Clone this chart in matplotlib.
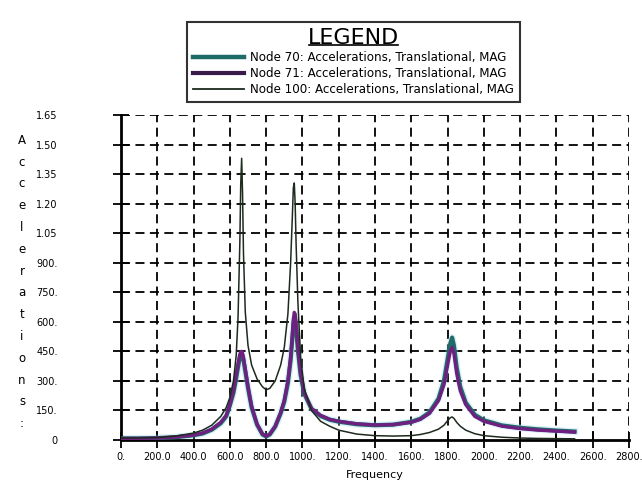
import matplotlib
matplotlib.use("Agg")
import matplotlib.pyplot as plt
from matplotlib.lines import Line2D

# ---------------- data ----------------
freq = [0, 100, 200, 300, 400, 450, 500, 550, 580, 600, 620, 635, 645, 655, 660, 665,
        670, 675, 685, 700, 720, 750, 780, 800, 820, 850, 880, 900, 920, 935, 945, 950,
        955, 960, 965, 975, 990, 1010, 1050, 1100, 1150, 1200, 1300, 1400, 1500, 1600,
        1650, 1700, 1750, 1780, 1800, 1815, 1825, 1835, 1850, 1870, 1900, 1950, 2000,
        2100, 2200, 2300, 2400, 2500]

node70 = [8, 8, 10, 14, 24, 33, 52, 85, 120, 175, 240, 315, 370, 420, 432, 435,
          425, 405, 350, 265, 165, 78, 28, 18, 28, 68, 135, 195, 290, 405, 520, 585,
          620, 612, 570, 455, 330, 235, 158, 122, 103, 93, 80, 75, 78, 92,
          108, 140, 210, 300, 410, 490, 520, 480, 370, 270, 190, 128, 100,
          74, 62, 54, 48, 43]

node71 = [8, 8, 10, 15, 25, 35, 55, 90, 125, 180, 250, 330, 385, 435, 448, 450,
          440, 420, 360, 270, 170, 80, 30, 20, 30, 70, 140, 200, 300, 420, 540, 610,
          648, 640, 590, 470, 340, 240, 160, 125, 105, 95, 82, 76, 78, 90,
          105, 135, 200, 280, 380, 450, 470, 440, 340, 250, 180, 120, 95,
          70, 58, 50, 45, 40]

node100 = [10, 10, 12, 20, 35, 50, 75, 120, 165, 215, 300, 430, 620, 1000, 1300, 1430,
           1250, 950, 650, 480, 380, 310, 270, 255, 262, 300, 380, 470, 640, 900, 1150, 1280,
           1305, 1200, 1000, 700, 420, 260, 150, 95, 70, 50, 30, 22, 20, 22,
           28, 38, 55, 75, 98, 113, 117, 110, 90, 70, 50, 32, 22,
           14, 10, 8, 7, 6]

series_labels = ["Node 70: Accelerations, Translational, MAG",
                 "Node 71: Accelerations, Translational, MAG",
                 "Node 100: Accelerations, Translational, MAG"]

xticks = [0, 200, 400, 600, 800, 1000, 1200, 1400, 1600, 1800, 2000, 2200, 2400, 2600, 2800]
xtick_labels = ["0.", "200.0", "400.0", "600.0", "800.0", "1000.", "1200.", "1400.",
                "1600.", "1800.", "2000.", "2200.", "2400.", "2600.", "2800."]
yticks = [0, 150, 300, 450, 600, 750, 900, 1050, 1200, 1350, 1500, 1650]
ytick_labels = ["0", "150.", "300.", "450.", "600.", "750.", "900.", "1.05", "1.20",
                "1.35", "1.50", "1.65"]

# ---------------- figure ----------------
fig = plt.figure(figsize=(6.42, 4.91), dpi=100)
ax = fig.add_axes([121 / 642, 1 - 440 / 491, (629 - 121) / 642, (440 - 115) / 491])

ax.set_xlim(0, 2800)
ax.set_ylim(0, 1650)

# grid
for x in xticks[1:]:
    ax.axvline(x, color="black", lw=1.3, ls=(0, (5, 3)), zorder=1)
for y in yticks[1:]:
    ax.axhline(y, color="black", lw=1.3, ls=(0, (5, 3)), zorder=1)

teal = "#1f6b68"
purple = "#6e2080"
thin = "#1e2a1e"

ax.plot(freq, node70, color="#8fd0e8", lw=5.0, alpha=0.3, zorder=2)
l70, = ax.plot(freq, node70, color=teal, lw=3.0, zorder=3)
l71, = ax.plot(freq, node71, color=purple, lw=2.4, zorder=4)
l100, = ax.plot(freq, node100, color=thin, lw=1.1, zorder=5)

for side in ["top", "right"]:
    ax.spines[side].set_visible(False)
ax.spines["left"].set_linewidth(2)
ax.spines["bottom"].set_linewidth(2)

ax.set_xticks(xticks)
ax.set_xticklabels(xtick_labels, fontsize=7)
ax.set_yticks(yticks)
ax.set_yticklabels(ytick_labels, fontsize=7)
ax.tick_params(axis="both", direction="inout", length=11, width=1.3, color="black")
ax.tick_params(axis="y", pad=40)
ax.tick_params(axis="x", pad=3)

ax.set_xlabel("Frequency", fontsize=8, labelpad=6)

# vertical stacked y label
fig.text(22 / 642, 1 - 282 / 491, "\n".join("Accelerations:"), ha="center", va="center",
         fontsize=8.5, linespacing=1.88)

# legend
handles = [Line2D([], [], color=teal, lw=3.2),
           Line2D([], [], color="#3a1a4a", lw=3.0),
           Line2D([], [], color=thin, lw=1.3)]
leg = fig.legend(handles, series_labels, loc="upper left",
                 bbox_to_anchor=(187 / 642, 1 - 22 / 491), bbox_transform=fig.transFigure,
                 fontsize=8.6, frameon=True, fancybox=False, edgecolor="black",
                 handlelength=4.3, handletextpad=0.5, borderpad=0.5, labelspacing=0.26,
                 title="LEGEND", title_fontsize=16, borderaxespad=0)
leg.get_frame().set_linewidth(1.5)

fig.canvas.draw()
tb = leg.get_title().get_window_extent()
inv = fig.transFigure.inverted()
(x0, y0), (x1, y1) = inv.transform([[tb.x0, tb.y0], [tb.x1, tb.y1]])
fig.add_artist(Line2D([x0 + 0.002, x1 - 0.002], [y0 + 0.006, y0 + 0.006], color="black",
                      lw=1.2, transform=fig.transFigure, zorder=20))

fig.savefig("out.png", dpi=100)
